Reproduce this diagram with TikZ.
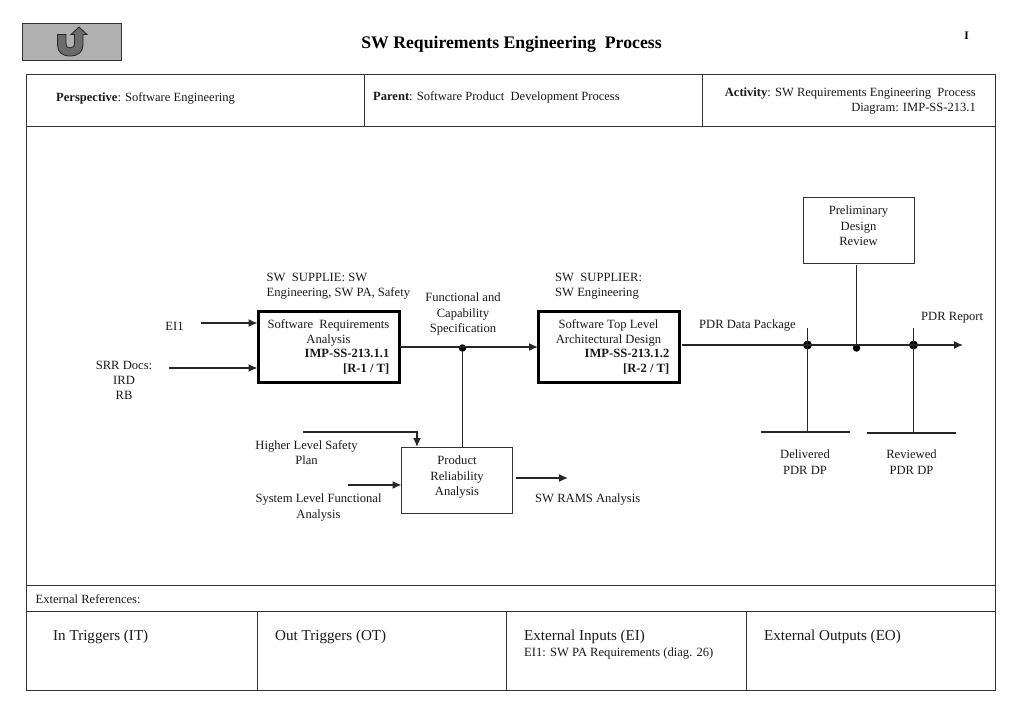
\documentclass[tikz,border=0pt]{standalone}
\usepackage{fontspec}
\setmainfont{Liberation Serif}
\usetikzlibrary{arrows.meta}
\newcommand{\fsz}{\fontsize{12.6}{15.2}\selectfont}
\newcommand{\hsz}{\fontsize{12.55}{15.2}\selectfont}
\tikzset{
  x=1pt,y=-1pt,
  lbl/.style={inner sep=0pt,align=center,font=\fsz,text=black!90},
  lbll/.style={inner sep=0pt,align=left,font=\fsz,text=black!90},
  hdr/.style={inner sep=0pt,font=\hsz,text=black!90},
  cell/.style={draw=black!80,line width=0.9pt,fill=none,inner sep=0pt,outer sep=0pt},
  thickbox/.style={draw=black,line width=2.8pt,inner sep=0pt,outer sep=0pt,anchor=north west},
  thinbox/.style={draw=black!80,line width=1pt,inner sep=0pt,outer sep=0pt,anchor=north west},
  wire/.style={draw=black!85,line width=1.4pt},
  arr/.style={wire,-{Latex[length=9pt,width=8pt]}},
  dotn/.style={circle,fill=black,inner sep=0pt,minimum size=7.5pt},
  rowh/.style={inner sep=0pt,anchor=west,font=\fontsize{15.1}{18}\selectfont,text=black!90}
}
\begin{document}
\begin{tikzpicture}
\useasboundingbox (0,0) rectangle (1024,720);
% button
\node[draw=black!80,line width=0.9pt,fill=black!31,anchor=north west,minimum width=99pt,minimum height=37.5pt,inner sep=0pt,outer sep=0pt] (btn) at (22.5,23) {};
\draw[draw=black!85,line width=0.8pt,fill=black!58,line join=miter]
  (57.5,34.5) -- (57.5,45) .. controls (57.5,52) and (62,56) .. (70,56)
  .. controls (78,56) and (83,52) .. (83,45) -- (83,34.5) -- (87,34.5) -- (79,27) -- (71,34.5) -- (74.5,34.5) -- (74.5,43)
  .. controls (74.5,46.5) and (72.5,48) .. (70,48)
  .. controls (67.5,48) and (66,46.5) .. (66,43) -- (66,34.5) -- cycle;
% title
\node[inner sep=0pt,font=\bfseries\fontsize{17.7}{21}\selectfont] (title) at (511.5,44.5) {SW Requirements Engineering\ \ Process};
\node[inner sep=0pt,font=\bfseries\fontsize{11.5}{13}\selectfont] (pg) at (966.5,35.5) {I};
% frame
\node[cell,anchor=north west,minimum width=969pt,minimum height=616pt] (frame) at (26.5,74) {};
\coordinate (h1l) at (26.5,126); \coordinate (h1r) at (995.5,126);
\coordinate (h2l) at (26.5,585.5); \coordinate (h2r) at (995.5,585.5);
\coordinate (h3l) at (26.5,611.5); \coordinate (h3r) at (995.5,611.5);
\draw[cell] (h1l) -- (h1r);
\draw[cell] (h2l) -- (h2r);
\draw[cell] (h3l) -- (h3r);
\coordinate (v1a) at (364.5,74); \coordinate (v1b) at (364.5,126);
\coordinate (v2a) at (702,74); \coordinate (v2b) at (702,126);
\coordinate (v3a) at (257.5,611.5); \coordinate (v3b) at (257.5,690);
\coordinate (v4a) at (506,611.5); \coordinate (v4b) at (506,690);
\coordinate (v5a) at (746,611.5); \coordinate (v5b) at (746,690);
\draw[cell] (v1a) -- (v1b);
\draw[cell] (v2a) -- (v2b);
\draw[cell] (v3a) -- (v3b);
\draw[cell] (v4a) -- (v4b);
\draw[cell] (v5a) -- (v5b);
% header
\node[hdr,anchor=west] (persp) at (56,98.5) {\textbf{Perspective}: Software Engineering};
\node[hdr,anchor=west] (parent) at (373,97) {\textbf{Parent}: Software Product\ \ Development Process};
\node[hdr,anchor=north east,align=right] (activity) at (976,87.5) {\textbf{Activity}: SW Requirements Engineering\ \ Process\\Diagram: IMP-SS-213.1};
% bottom
\node[hdr,anchor=west] (extref) at (35.5,599) {External References:};
\node[rowh] (it) at (53,637) {In Triggers (IT)};
\node[rowh] (ot) at (275,637) {Out Triggers (OT)};
\node[rowh] (ei) at (524,637) {External Inputs (EI)};
\node[rowh] (eo) at (764,637) {External Outputs (EO)};
\node[hdr,anchor=west,font=\fontsize{12.6}{15}\selectfont] (ei1txt) at (524,653) {EI1: SW PA Requirements (diag. 26)};
% boxes
\node[thickbox,minimum width=141pt,minimum height=71pt] (r1) at (258.5,311.5) {};
\node[thickbox,minimum width=141pt,minimum height=71pt] (r2) at (538.5,311.5) {};
\node[thinbox,minimum width=111pt,minimum height=66pt] (pra) at (401.5,447.5) {};
\node[thinbox,minimum width=111pt,minimum height=66pt] (pdr) at (803.5,197) {};
% box texts
\node[lbl,anchor=north] (r1a) at (328.5,319.5) {Software\ \ Requirements\\Analysis};
\node[lbl,anchor=north east,align=right] (r1b) at (389.5,349) {\textbf{IMP-SS-213.1.1}\\\textbf{[R-1 / T]}};
\node[lbl,anchor=north] (r2a) at (608.5,319.5) {Software Top Level\\Architectural Design};
\node[lbl,anchor=north east,align=right] (r2b) at (669.5,349) {\textbf{IMP-SS-213.1.2}\\\textbf{[R-2 / T]}};
\node[lbl,anchor=north] (prat) at (457,456) {Product\\Reliability\\Analysis};
\node[lbl,anchor=north] (pdrt) at (858.5,206) {Preliminary\\Design\\Review};
% labels
\node[lbll,anchor=north west] (sup1) at (266.5,273) {SW\ \ SUPPLIE: SW\\Engineering, SW PA, Safety};
\node[lbll,anchor=north west] (sup2) at (555,273) {SW\ \ SUPPLIER:\\SW Engineering};
\node[lbl,anchor=north] (fcs) at (463,293) {Functional and\\Capability\\Specification};
\node[lbl] (ei1) at (174.5,326) {EI1};
\node[lbl,anchor=north] (srr) at (124,361) {SRR Docs:\\IRD\\RB};
\node[lbl,anchor=north] (hl) at (306.5,440) {Higher Level Safety\\Plan};
\node[lbl,anchor=north] (sl) at (318.5,494) {System Level Functional\\Analysis};
\node[lbll,anchor=west] (rams) at (535,499.5) {SW RAMS Analysis};
\node[lbll,anchor=west] (pdp) at (699,325) {PDR Data Package};
\node[lbll,anchor=west] (prep) at (921,317.5) {PDR Report};
\node[lbl,anchor=north] (del) at (805,450) {Delivered\\PDR DP};
\node[lbl,anchor=north] (rev) at (911.5,450) {Reviewed\\PDR DP};
% coordinates
\coordinate (ei1s) at (201,323);
\coordinate (ei1e) at (257.5,323);
\coordinate (srrs) at (169,368);
\coordinate (srre) at (257.5,368);
\coordinate (hls) at (303,432);
\coordinate (hlc) at (417,432);
\coordinate (hle) at (417,447);
\coordinate (sls) at (348,485);
\coordinate (sle) at (401.5,485);
\coordinate (rs) at (516,478);
\coordinate (re) at (568,478);
\coordinate (r1o) at (400,347);
\coordinate (r2i) at (538,347);
\coordinate (r2o) at (682,345);
\coordinate (pe) at (963,345);
% dots
\node[dotn] (d1) at (462.5,348) {};
\node[dotn,minimum size=9pt] (d2) at (807.5,345) {};
\node[dotn] (d3) at (856.5,348) {};
\node[dotn,minimum size=9pt] (d4) at (913.5,345) {};
\coordinate (t1) at (807.5,328); \coordinate (b1) at (807.5,432);
\coordinate (t2) at (913.5,328); \coordinate (b2) at (913.5,433);
\coordinate (b1l) at (760.5,432); \coordinate (b1r) at (849.5,432);
\coordinate (b2l) at (867,433); \coordinate (b2r) at (956,433);
\coordinate (pa) at (856.5,265);
\coordinate (pra1) at (462.5,447.5);
% connectors
\draw[arr] (ei1s) -- (ei1e);
\draw[arr] (srrs) -- (srre);
\draw[arr] (hls) -- (hlc) -- (hle);
\draw[arr] (sls) -- (sle);
\draw[arr] (rs) -- (re);
\draw[arr] (r1o) -- (r2i);
\draw[arr] (r2o) -- (pe);
\draw[wire] (d1) -- (pra1);
\draw[wire] (pa) -- (d3);
\draw[wire] (t1) -- (b1);
\draw[wire] (t2) -- (b2);
\draw[wire] (b1l) -- (b1r);
\draw[wire] (b2l) -- (b2r);
\end{tikzpicture}
\end{document}
